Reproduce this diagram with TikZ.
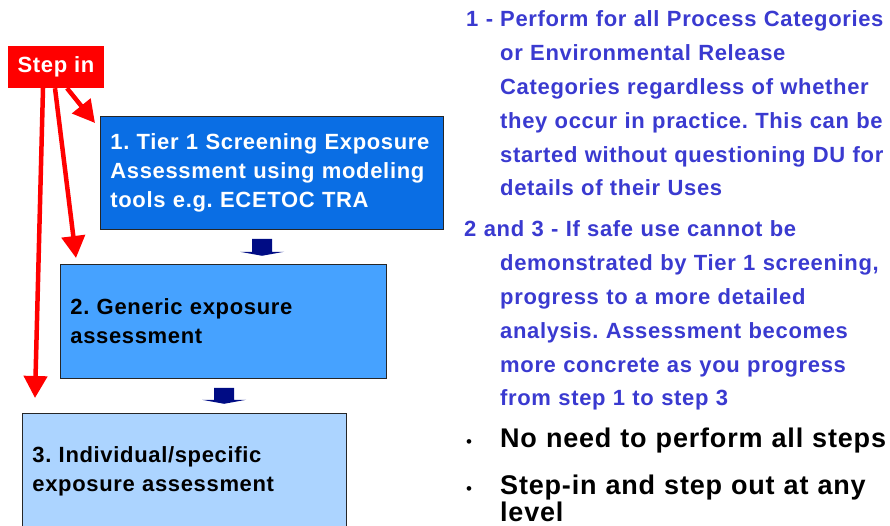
\documentclass[tikz,border=0pt]{standalone}
\usepackage{fontspec}
\setmainfont{Liberation Sans}[LetterSpace=3]
\usepackage{tikz}
\usetikzlibrary{calc, arrows.meta, positioning}
\definecolor{tierone}{RGB}{10,110,228}
\definecolor{tiertwo}{RGB}{70,162,255}
\definecolor{tierthree}{RGB}{172,212,255}
\definecolor{navyarrow}{RGB}{0,12,132}
\definecolor{notetext}{RGB}{58,58,208}
\tikzset{>=latex}
\frenchspacing

\begin{document}
\begin{tikzpicture}[x=1pt, y=1pt,
box/.style={draw=black!85, line width=0.8pt, anchor=north west, inner xsep=10pt, align=left, font=\bfseries\fontsize{22}{29}\selectfont},
stepin arrow/.style={red, line width=4.5pt, -{Triangle[length=22pt, width=23pt]}},
note/.style={anchor=base west, inner sep=0pt, align=left, text width=395pt, text=notetext, font=\bfseries\fontsize{22}{33.8}\selectfont},
bullet/.style={anchor=base west, inner sep=0pt, align=left, text width=395pt, font=\bfseries\fontsize{27}{25}\selectfont},
dot/.style={anchor=base west, inner sep=0pt, font=\fontsize{17}{17}\selectfont}]

\useasboundingbox (0,0) rectangle (890,526);

% steps
\node[fill=red, text=white, minimum width=96pt, minimum height=42pt, font=\bfseries\fontsize{22}{26}\selectfont] (stepin) at (56,459) {Step in};
\node[box, fill=tierone, text=white, text width=323pt, minimum height=113pt] (b1) at (100,410)
{1. Tier 1 Screening Exposure\\Assessment using modeling\\tools e.g. ECETOC TRA};
\node[box, fill=tiertwo, text width=306pt, minimum height=114pt] (b2) at (60,262)
{2. Generic exposure\\assessment};
\node[box, fill=tierthree, text width=304pt, minimum height=116pt] (b3) at (22,113)
{3. Individual/specific\\exposure assessment};

% block arrows between the steps
\fill[navyarrow] ($(b1.south west)+(152,-9)$) -- ++(20,0) -- ++(0,-13) -- ++(12,0)
  -- ++(-22,-4) -- ++(-22,4) -- ++(12,0) -- cycle;
\fill[navyarrow] ($(b2.south west)+(154,-9)$) -- ++(20,0) -- ++(0,-12) -- ++(12,0)
  -- ++(-22,-4) -- ++(-22,4) -- ++(12,0) -- cycle;

\path[stepin arrow]
([xshift=11pt]stepin.south) edge ([shift={(-5pt,-7pt)}]b1.north west)
([xshift=-1pt]stepin.south) edge ([shift={(16pt,6pt)}]b2.north west)
([xshift=-13pt]stepin.south) edge ([shift={(13pt,15pt)}]b3.north west);

% notes
\node[note, text width=34pt] (n1lbl) at (466,499) {1 -};
\node[note] (n1) at (500,499) {Perform for all Process Categories\\or Environmental Release\\
Categories regardless of whether\\they occur in practice. This can be\\started without questioning DU for\\details of their Uses};
\node[note] (n2lbl) at (464,289) {2 and 3 - If safe use cannot be};
\node[note] (n2) at (500,255.2) {demonstrated by Tier 1 screening,\\progress to a more detailed\\analysis. Assessment becomes\\
more concrete as you progress\\from step 1 to step 3};
\node[dot] (p1dot) at (466,78) {•};
\node[bullet] (p1) at (500,78) {No need to perform all steps};
\node[dot] (p2dot) at (466,31) {•};
\node[bullet] (p2) at (500,31) {Step-in and step out at any\\level};
\end{tikzpicture}
\end{document}
